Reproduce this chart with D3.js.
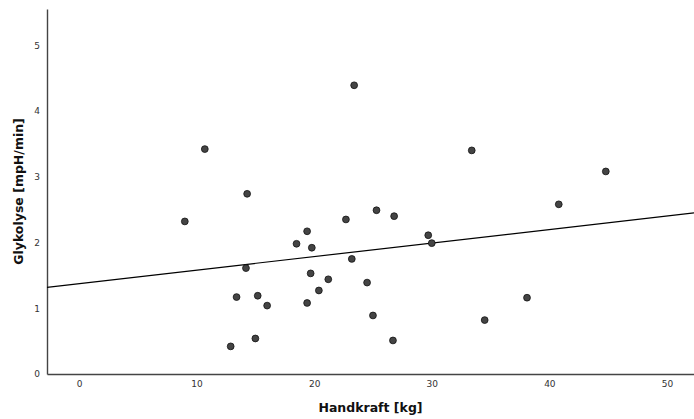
<!DOCTYPE html>
<html>
<head>
<meta charset="utf-8">
<script src="https://cdn.jsdelivr.net/npm/d3@7"></script>
<style>
  html, body { margin: 0; padding: 0; background: #fff; }
  svg { display: block; }
  .tick text { font-family: "DejaVu Sans", sans-serif; font-size: 9px; fill: #333; }
  .axis-title { font-family: "DejaVu Sans", sans-serif; font-size: 12.5px; font-weight: bold; fill: #111; }
</style>
</head>
<body>
<svg id="chart" width="694" height="419"></svg>
<script>
// Handkraft [kg] per subject
const handkraft = [
  9.0, 10.7, 12.9, 13.4, 14.2, 14.3, 15.0, 15.2, 16.0, 18.5,
  19.4, 19.8, 19.7, 19.4, 20.4, 21.2, 22.7, 23.4, 23.2, 24.5,
  25.0, 25.3, 26.8, 26.7, 29.7, 30.0, 33.4, 34.5, 38.1, 40.8, 44.8
];
// Glykolyse [mpH/min] per subject
const glykolyse = [
  2.32, 3.42, 0.42, 1.17, 1.61, 2.74, 0.54, 1.19, 1.04, 1.98,
  2.17, 1.92, 1.53, 1.08, 1.27, 1.44, 2.35, 4.39, 1.75, 1.39,
  0.89, 2.49, 2.40, 0.51, 2.11, 1.99, 3.40, 0.82, 1.16, 2.58, 3.08
];
const xTicks = [0, 10, 20, 30, 40, 50];
const yTicks = [0, 1, 2, 3, 4, 5];
const xDomain = [-2.72, 52.3];
const yDomain = [0, 5.55];

const svg = d3.select("#chart");
const margin = { left: 47, right: 0, top: 9, bottom: 45 };
const W = 694, H = 419;

const x = d3.scaleLinear().domain(xDomain).range([margin.left, W - margin.right]);
const y = d3.scaleLinear().domain(yDomain).range([H - margin.bottom, margin.top]);

// Least-squares fit line through all points
const n = handkraft.length;
const mx = d3.mean(handkraft), my = d3.mean(glykolyse);
let sxy = 0, sxx = 0;
for (let i = 0; i < n; i++) {
  sxy += (handkraft[i] - mx) * (glykolyse[i] - my);
  sxx += (handkraft[i] - mx) ** 2;
}
const slope = sxy / sxx;
const intercept = my - slope * mx;

// Axes (labels only, no tick marks)
const xAxis = d3.axisBottom(x).tickValues(xTicks).tickSize(0).tickPadding(7).tickFormat(d3.format("d"));
const yAxis = d3.axisLeft(y).tickValues(yTicks).tickSize(0).tickPadding(7).tickFormat(d3.format("d"));

const gx = svg.append("g").attr("transform", `translate(0,${y(0)})`).call(xAxis);
const gy = svg.append("g").attr("transform", `translate(${x(xDomain[0])},0)`).call(yAxis);
[gx, gy].forEach(g => g.select(".domain").attr("stroke", "#444").attr("stroke-width", 1.4));

// Fit line
const fit = d => intercept + slope * d;
svg.append("line")
  .attr("x1", x(xDomain[0])).attr("y1", y(fit(xDomain[0])))
  .attr("x2", x(xDomain[1])).attr("y2", y(fit(xDomain[1])))
  .attr("stroke", "#000").attr("stroke-width", 1.2);

// Points
svg.append("g").selectAll("circle")
  .data(d3.range(n))
  .join("circle")
  .attr("cx", i => x(handkraft[i]))
  .attr("cy", i => y(glykolyse[i]))
  .attr("r", 3.4)
  .attr("fill", "#444")
  .attr("stroke", "#111")
  .attr("stroke-width", 0.8);

// Axis titles
svg.append("text").attr("class", "axis-title")
  .attr("x", (x(xDomain[0]) + x(xDomain[1])) / 2).attr("y", 412)
  .attr("text-anchor", "middle")
  .text("Handkraft [kg]");

svg.append("text").attr("class", "axis-title")
  .attr("transform", `translate(23,${(y(yDomain[0]) + y(yDomain[1])) / 2}) rotate(-90)`)
  .attr("text-anchor", "middle")
  .text("Glykolyse [mpH/min]");
</script>
</body>
</html>
